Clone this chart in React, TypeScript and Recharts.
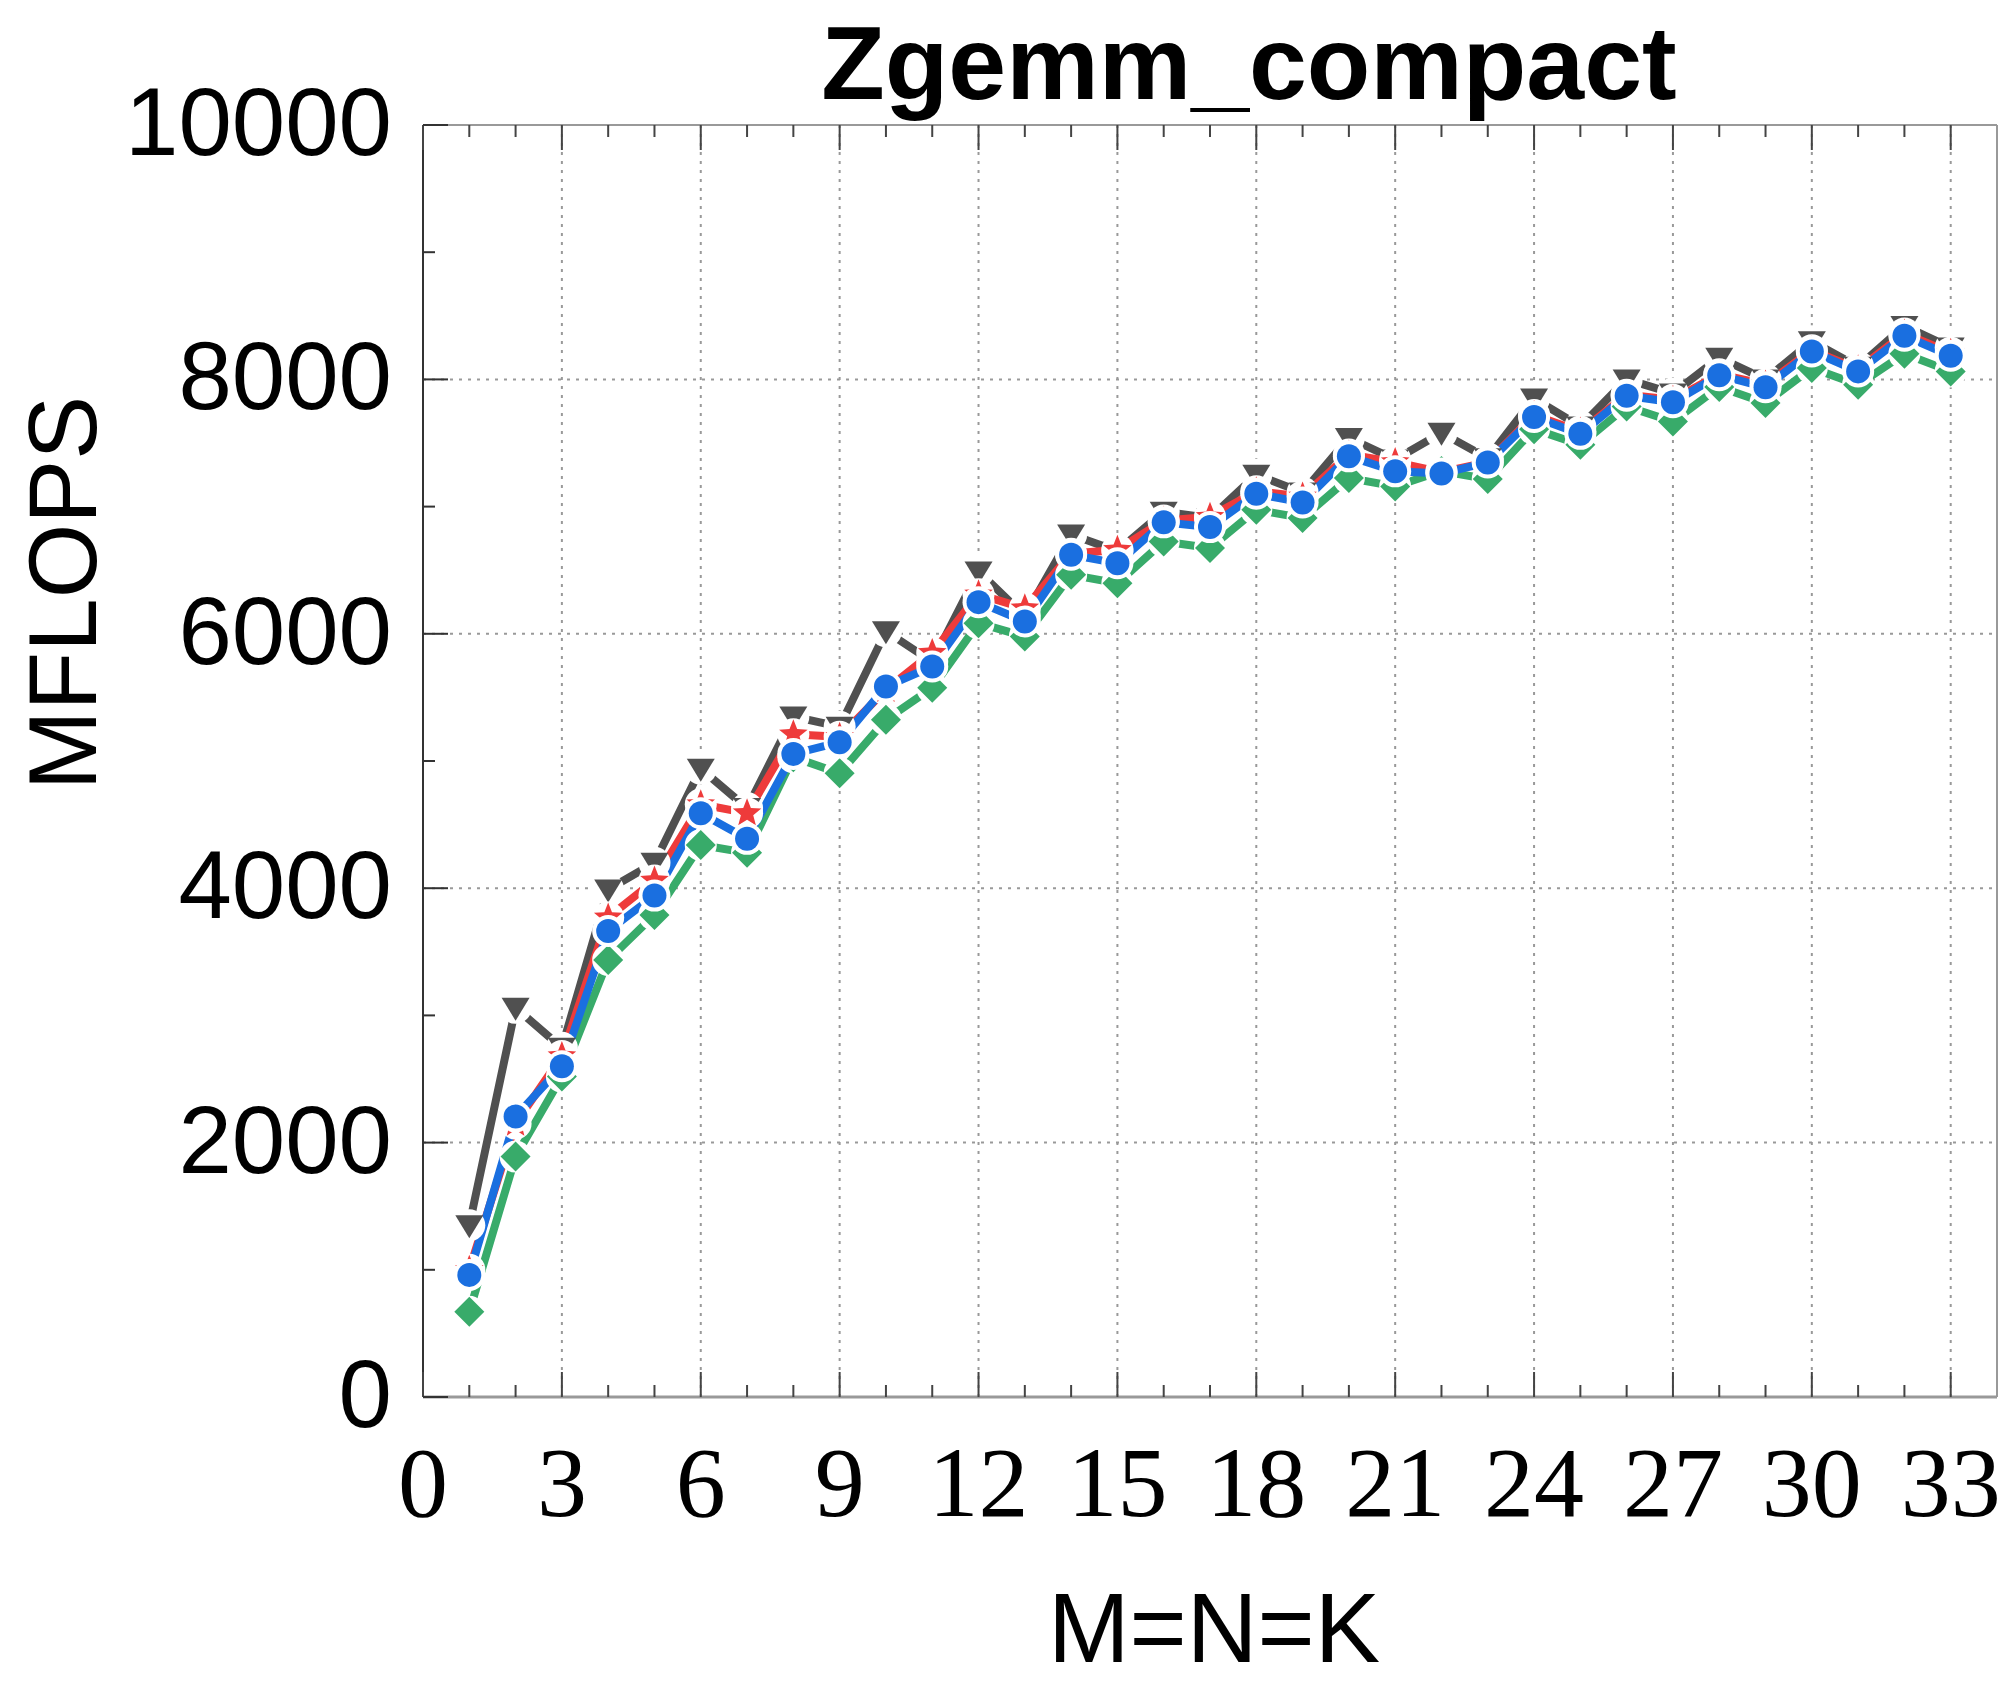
import React from 'react';
import { LineChart, Line, XAxis, YAxis, CartesianGrid } from 'recharts';

// M=N=K sizes
const sizes = [
  1, 2, 3, 4, 5, 6, 7, 8, 9, 10, 11, 12, 13, 14, 15, 16, 17,
  18, 19, 20, 21, 22, 23, 24, 25, 26, 27, 28, 29, 30, 31, 32, 33,
];

// MFLOPS per implementation
const grayRun = [
  1350, 3060, 2745, 3990, 4200, 4940, 4630, 5350, 5270, 6020, 5780, 6490, 6140, 6780, 6650, 6960, 6910,
  7250, 7110, 7540, 7370, 7580, 7380, 7850, 7630, 8000, 7890, 8170, 8000, 8300, 8100, 8420, 8250,
];
const redRun = [
  1000, 2150, 2680, 3770, 4060, 4660, 4590, 5210, 5190, 5560, 5850, 6310, 6200, 6630, 6660, 6890, 6920,
  7120, 7080, 7410, 7350, 7270, 7350, 7720, 7590, 7880, 7840, 8040, 7960, 8230, 8080, 8360, 8210,
];
const greenRun = [
  670, 1890, 2519, 3436, 3790, 4340, 4278, 5030, 4904, 5324, 5575, 6083, 5979, 6464, 6398, 6726, 6674,
  6975, 6910, 7224, 7158, 7280, 7216, 7609, 7486, 7787, 7669, 7941, 7815, 8089, 7958, 8202, 8063,
];
const blueRun = [
  960, 2205, 2600, 3664, 3942, 4590, 4388, 5056, 5148, 5586, 5743, 6249, 6097, 6621, 6555, 6876, 6839,
  7101, 7033, 7395, 7277, 7260, 7347, 7704, 7572, 7871, 7820, 8033, 7938, 8220, 8063, 8343, 8186,
];

const xTicks = [
  0, 1, 2, 3, 4, 5, 6, 7, 8, 9, 10, 11, 12, 13, 14, 15, 16,
  17, 18, 19, 20, 21, 22, 23, 24, 25, 26, 27, 28, 29, 30, 31, 32, 33,
];
const xGrid = [3, 6, 9, 12, 15, 18, 21, 24, 27, 30, 33];
const yTicks = [0, 1000, 2000, 3000, 4000, 5000, 6000, 7000, 8000, 9000, 10000];
const yGrid = [2000, 4000, 6000, 8000];

const rows = sizes.map((n, i) => ({
  n,
  gray: grayRun[i],
  red: redRun[i],
  green: greenRun[i],
  blue: blueRun[i],
}));

const SANS = '"Liberation Sans", Arial, sans-serif';
const SERIF = '"Liberation Serif", "Times New Roman", serif';

type Shape = 'triangle' | 'star' | 'diamond' | 'circle';

const starPoints = (cx: number, cy: number, ro: number, ri: number) => {
  const pts: string[] = [];
  for (let k = 0; k < 10; k++) {
    const r = k % 2 === 0 ? ro : ri;
    const a = -Math.PI / 2 + (k * Math.PI) / 5;
    pts.push(`${cx + r * Math.cos(a)},${cy + r * Math.sin(a)}`);
  }
  return pts.join(' ');
};

// point with a blanked-out background, like gnuplot's negative pointinterval
const marker = (shape: Shape, color: string) => (props: any) => {
  const { cx, cy, index } = props;
  if (cx == null || cy == null) return <g key={`m-${shape}-${index}`} />;
  let mark;
  if (shape === 'triangle') {
    mark = <polygon points={`${cx - 14},${cy - 10} ${cx + 14},${cy - 10} ${cx},${cy + 13}`} fill={color} />;
  } else if (shape === 'star') {
    mark = <polygon points={starPoints(cx, cy, 15, 6.5)} fill={color} />;
  } else if (shape === 'diamond') {
    mark = <polygon points={`${cx},${cy - 15} ${cx + 15},${cy} ${cx},${cy + 15} ${cx - 15},${cy}`} fill={color} />;
  } else {
    mark = <circle cx={cx} cy={cy} r={12} fill={color} />;
  }
  return (
    <g key={`m-${shape}-${index}`}>
      <circle cx={cx} cy={cy} r={16} fill="#fff" />
      {mark}
    </g>
  );
};

const LeftTick = (props: any) => {
  const { x, y, payload } = props;
  const v = payload.value;
  const major = v % 2000 === 0;
  return (
    <g>
      <line x1={x} x2={x + (major ? 25 : 12)} y1={y} y2={y} stroke="#333" strokeWidth={2} />
      {major && (
        <text x={x - 31} y={y + 30} textAnchor="end" fontFamily={SANS} fontSize={96} fill="#000">
          {v}
        </text>
      )}
    </g>
  );
};

const RightTick = (props: any) => {
  const { x, y, payload } = props;
  const major = payload.value % 2000 === 0;
  return <line x1={x} x2={x - (major ? 25 : 12)} y1={y} y2={y} stroke="#333" strokeWidth={2} />;
};

const BottomTick = (props: any) => {
  const { x, y, payload } = props;
  const v = payload.value;
  const major = v % 3 === 0;
  return (
    <g>
      <line x1={x} x2={x} y1={y} y2={y - (major ? 25 : 12)} stroke="#444" strokeWidth={2} />
      {major && (
        <text x={x} y={y + 119} textAnchor="middle" fontFamily={SERIF} fontSize={100} fill="#000">
          {v}
        </text>
      )}
    </g>
  );
};

const TopTick = (props: any) => {
  const { x, y, payload } = props;
  const major = payload.value % 3 === 0;
  return <line x1={x} x2={x} y1={y} y2={y + (major ? 25 : 12)} stroke="#444" strokeWidth={2} />;
};

const App = () => {
  return (
    <div style={{ position: 'absolute', left: 0, top: 0, width: 2010, height: 1689, background: '#fff' }}>
      <LineChart width={2010} height={1689} data={rows} margin={{ top: 0, right: 0, bottom: 0, left: 0 }}>
        <CartesianGrid
          stroke="#999"
          strokeWidth={2}
          strokeDasharray="3 6"
          horizontalValues={yGrid}
          verticalValues={xGrid}
        />
        <XAxis
          dataKey="n"
          type="number"
          domain={[0, 34]}
          ticks={xTicks}
          interval={0}
          height={292}
          tickSize={0}
          tickMargin={0}
          tickLine={false}
          tick={<BottomTick />}
          axisLine={{ stroke: '#999', strokeWidth: 3 }}
        />
        <XAxis
          xAxisId="top"
          orientation="top"
          dataKey="n"
          type="number"
          domain={[0, 34]}
          ticks={xTicks}
          interval={0}
          height={125}
          tickSize={0}
          tickMargin={0}
          tickLine={false}
          tick={<TopTick />}
          axisLine={{ stroke: '#999', strokeWidth: 2 }}
        />
        <YAxis
          type="number"
          domain={[0, 10000]}
          ticks={yTicks}
          interval={0}
          width={423}
          tickSize={0}
          tickMargin={0}
          tickLine={false}
          tick={<LeftTick />}
          axisLine={{ stroke: '#333', strokeWidth: 2 }}
        />
        <YAxis
          yAxisId="right"
          orientation="right"
          type="number"
          domain={[0, 10000]}
          ticks={yTicks}
          interval={0}
          width={13}
          tickSize={0}
          tickMargin={0}
          tickLine={false}
          tick={<RightTick />}
          axisLine={{ stroke: '#999', strokeWidth: 2 }}
        />
        <Line
          dataKey="gray"
          name="gray"
          type="linear"
          stroke="#505050"
          strokeWidth={8}
          strokeLinecap="round"
          dot={marker('triangle', '#505050')}
          activeDot={false}
          isAnimationActive={false}
        />
        <Line
          dataKey="red"
          name="red"
          type="linear"
          stroke="#ee3b3b"
          strokeWidth={8}
          strokeLinecap="round"
          dot={marker('star', '#ee3b3b')}
          activeDot={false}
          isAnimationActive={false}
        />
        <Line
          dataKey="green"
          name="green"
          type="linear"
          stroke="#38ab6a"
          strokeWidth={8}
          strokeLinecap="round"
          dot={marker('diamond', '#38ab6a')}
          activeDot={false}
          isAnimationActive={false}
        />
        <Line
          dataKey="blue"
          name="blue"
          type="linear"
          stroke="#1a6fe0"
          strokeWidth={8}
          strokeLinecap="round"
          dot={marker('circle', '#1a6fe0')}
          activeDot={false}
          isAnimationActive={false}
        />
      </LineChart>
      <svg
        width={2010}
        height={1689}
        style={{ position: 'absolute', left: 0, top: 0, pointerEvents: 'none' }}
      >
        <text x={1249} y={99} textAnchor="middle" fontFamily={SANS} fontWeight="bold" fontSize={104} fill="#000">
          Zgemm_compact
        </text>
        <text x={1214} y={1662} textAnchor="middle" fontFamily={SANS} fontSize={98} fill="#000">
          M=N=K
        </text>
        <text
          transform="translate(96, 593) rotate(-90)"
          textAnchor="middle"
          fontFamily={SANS}
          fontSize={96}
          fill="#000"
        >
          MFLOPS
        </text>
      </svg>
    </div>
  );
};

export default App;
